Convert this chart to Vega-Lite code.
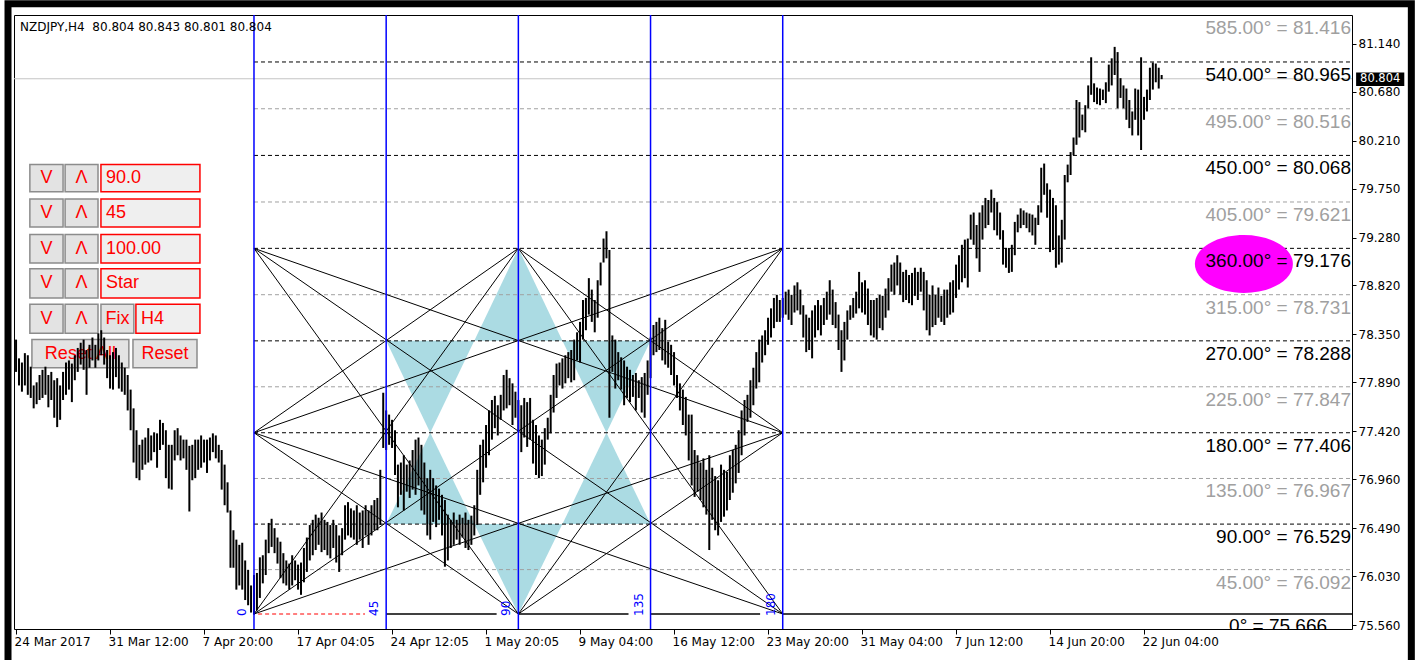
{
"$schema": "https://vega.github.io/schema/vega-lite/v6.json",
"width": 1338,
"height": 614,
"autosize": {"type": "none"},
"padding": {"left": 14, "top": 15, "right": 63, "bottom": 31},
"background": "#ffffff",
"config": {"view": {"stroke": "#000000", "strokeWidth": 1}, "text": {"font": "DejaVu Sans"}},
"datasets": {
"levels": [
{"deg":585,"p":81.416,"label":"585.00° = 81.416"},
{"deg":540,"p":80.965,"label":"540.00° = 80.965"},
{"deg":495,"p":80.516,"label":"495.00° = 80.516"},
{"deg":450,"p":80.068,"label":"450.00° = 80.068"},
{"deg":405,"p":79.621,"label":"405.00° = 79.621"},
{"deg":360,"p":79.176,"label":"360.00° = 79.176"},
{"deg":315,"p":78.731,"label":"315.00° = 78.731"},
{"deg":270,"p":78.288,"label":"270.00° = 78.288"},
{"deg":225,"p":77.847,"label":"225.00° = 77.847"},
{"deg":180,"p":77.406,"label":"180.00° = 77.406"},
{"deg":135,"p":76.967,"label":"135.00° = 76.967"},
{"deg":90,"p":76.529,"label":"90.00° = 76.529"},
{"deg":45,"p":76.092,"label":"45.00° = 76.092"},
{"deg":0,"p":75.666,"label":"0° = 75.666"}
],
"vlines": [{"t":0,"n":"0"},{"t":45,"n":"45"},{"t":90,"n":"90"},{"t":135,"n":"135"},{"t":180,"n":"180"}],
"star": [
{"t1":0,"p1":79.176,"t2":90,"p2":75.666},
{"t1":0,"p1":79.176,"t2":180,"p2":77.406},
{"t1":0,"p1":79.176,"t2":180,"p2":75.666},
{"t1":0,"p1":77.406,"t2":90,"p2":79.176},
{"t1":0,"p1":77.406,"t2":90,"p2":75.666},
{"t1":0,"p1":77.406,"t2":180,"p2":79.176},
{"t1":0,"p1":77.406,"t2":180,"p2":75.666},
{"t1":0,"p1":75.666,"t2":90,"p2":79.176},
{"t1":0,"p1":75.666,"t2":180,"p2":77.406},
{"t1":0,"p1":75.666,"t2":180,"p2":79.176},
{"t1":90,"p1":79.176,"t2":180,"p2":77.406},
{"t1":90,"p1":79.176,"t2":180,"p2":75.666},
{"t1":90,"p1":75.666,"t2":180,"p2":77.406},
{"t1":90,"p1":75.666,"t2":180,"p2":79.176}
],
"tri": [
{"g":"c1","t":75,"a":78.288,"b":78.288},{"g":"c1","t":90,"a":79.176,"b":78.288},{"g":"c1","t":105,"a":78.288,"b":78.288},
{"g":"c2","t":75,"a":76.529,"b":76.529},{"g":"c2","t":90,"a":75.666,"b":76.529},{"g":"c2","t":105,"a":76.529,"b":76.529},
{"g":"l1","t":45,"a":78.288,"b":78.288},{"g":"l1","t":60,"a":77.406,"b":78.288},{"g":"l1","t":75,"a":78.288,"b":78.288},
{"g":"l2","t":45,"a":76.529,"b":76.529},{"g":"l2","t":60,"a":77.406,"b":76.529},{"g":"l2","t":75,"a":76.529,"b":76.529},
{"g":"r1","t":105,"a":78.288,"b":78.288},{"g":"r1","t":120,"a":77.406,"b":78.288},{"g":"r1","t":135,"a":78.288,"b":78.288},
{"g":"r2","t":105,"a":76.529,"b":76.529},{"g":"r2","t":120,"a":77.406,"b":76.529},{"g":"r2","t":135,"a":76.529,"b":76.529}
],
"buttons": [
{"k":"btn","s":"V","t1":-76.3,"t2":-65.0,"p1":79.98,"p2":79.72,"tm":-70.65,"pm":79.85},
{"k":"btn","s":"Λ","t1":-64.3,"t2":-53.1,"p1":79.98,"p2":79.72,"tm":-58.7,"pm":79.85},
{"k":"box","s":"90.0","t1":-52.1,"t2":-18.4,"p1":79.98,"p2":79.72,"tm":-50.4,"pm":79.85},
{"k":"btn","s":"V","t1":-76.3,"t2":-65.0,"p1":79.65,"p2":79.38,"tm":-70.65,"pm":79.515},
{"k":"btn","s":"Λ","t1":-64.3,"t2":-53.1,"p1":79.65,"p2":79.38,"tm":-58.7,"pm":79.515},
{"k":"box","s":"45","t1":-52.1,"t2":-18.4,"p1":79.65,"p2":79.38,"tm":-50.4,"pm":79.515},
{"k":"btn","s":"V","t1":-76.3,"t2":-65.0,"p1":79.31,"p2":79.035,"tm":-70.65,"pm":79.17},
{"k":"btn","s":"Λ","t1":-64.3,"t2":-53.1,"p1":79.31,"p2":79.035,"tm":-58.7,"pm":79.17},
{"k":"box","s":"100.00","t1":-52.1,"t2":-18.4,"p1":79.31,"p2":79.035,"tm":-50.4,"pm":79.17},
{"k":"btn","s":"V","t1":-76.3,"t2":-65.0,"p1":78.98,"p2":78.70,"tm":-70.65,"pm":78.84},
{"k":"btn","s":"Λ","t1":-64.3,"t2":-53.1,"p1":78.98,"p2":78.70,"tm":-58.7,"pm":78.84},
{"k":"box","s":"Star","t1":-52.1,"t2":-18.4,"p1":78.98,"p2":78.70,"tm":-50.4,"pm":78.84},
{"k":"btn","s":"V","t1":-76.3,"t2":-65.0,"p1":78.64,"p2":78.36,"tm":-70.65,"pm":78.50},
{"k":"btn","s":"Λ","t1":-64.3,"t2":-53.1,"p1":78.64,"p2":78.36,"tm":-58.7,"pm":78.50},
{"k":"btn","s":"Fix","t1":-52.1,"t2":-40.9,"p1":78.64,"p2":78.36,"tm":-46.5,"pm":78.50},
{"k":"box","s":"H4","t1":-40.2,"t2":-18.4,"p1":78.64,"p2":78.36,"tm":-38.5,"pm":78.50},
{"k":"btn","s":"Reset All","t1":-75.6,"t2":-42.6,"p1":78.30,"p2":78.03,"tm":-59.1,"pm":78.165},
{"k":"btn","s":"Reset","t1":-41.2,"t2":-19.4,"p1":78.30,"p2":78.03,"tm":-30.3,"pm":78.165}
]
},
"layer": [
{
"data": {"name": "tri"},
"mark": {"type": "area", "color": "#abdbe3", "opacity": 1},
"encoding": {
"x": {"field": "t", "type": "quantitative"},
"y": {"field": "a", "type": "quantitative"},
"y2": {"field": "b"},
"detail": {"field": "g", "type": "nominal"}
}
},
{
"data": {"name": "levels"},
"transform": [{"filter": "datum.deg > 0 && datum.deg < 585"}],
"mark": {"type": "rule", "strokeDash": [4, 3], "strokeWidth": 1},
"encoding": {
"x": {"datum": 0, "type": "quantitative"},
"x2": {"datum": 373.8},
"y": {"field": "p", "type": "quantitative"},
"color": {"condition": {"test": "datum.deg % 90 === 0", "value": "#000000"}, "value": "#a0a0a0"}
}
},
{
"data": {"values": [{}]},
"mark": {"type": "rule", "color": "#c4c4c4", "strokeWidth": 1},
"encoding": {"y": {"datum": 80.804, "type": "quantitative"}}
},
{
"data": {"values": [{"t1": 45, "t2": 82.6}, {"t1": 90, "t2": 127.5}, {"t1": 135, "t2": 172.3}, {"t1": 180, "t2": 373.8}]},
"mark": {"type": "rule", "color": "#000000", "strokeWidth": 1.5},
"encoding": {
"x": {"field": "t1", "type": "quantitative"},
"x2": {"field": "t2"},
"y": {"datum": 75.666, "type": "quantitative"}
}
},
{
"data": {"values": [{}]},
"mark": {"type": "rule", "color": "#ff0000", "strokeWidth": 1.2, "strokeDash": [4, 3]},
"encoding": {
"x": {"datum": 1.4, "type": "quantitative"},
"x2": {"datum": 37.8},
"y": {"datum": 75.666, "type": "quantitative"}
}
},
{
"data": {"name": "buttons"},
"mark": {"type": "rect", "strokeWidth": 1.5},
"encoding": {
"x": {"field": "t1", "type": "quantitative"},
"x2": {"field": "t2"},
"y": {"field": "p1", "type": "quantitative"},
"y2": {"field": "p2"},
"fill": {"condition": {"test": "datum.k === 'box'", "value": "#efefef"}, "value": "#e3e3e3"},
"stroke": {"condition": {"test": "datum.k === 'box'", "value": "#ff0000"}, "value": "#8c8c8c"}
}
},
{
"data": {"name": "buttons"},
"transform": [{"filter": "datum.k === 'btn'"}],
"mark": {"type": "text", "align": "center", "baseline": "middle", "font": "Liberation Sans", "fontSize": 18, "color": "#ff0000"},
"encoding": {
"x": {"field": "tm", "type": "quantitative"},
"y": {"field": "pm", "type": "quantitative"},
"text": {"field": "s"}
}
},
{
"data": {"name": "buttons"},
"transform": [{"filter": "datum.k === 'box'"}],
"mark": {"type": "text", "align": "left", "baseline": "middle", "font": "Liberation Sans", "fontSize": 18, "color": "#ff0000"},
"encoding": {
"x": {"field": "tm", "type": "quantitative"},
"y": {"field": "pm", "type": "quantitative"},
"text": {"field": "s"}
}
},
{
"data": {"values": "t,h,l\n-81,78.30,77.99\n-80,78.12,77.86\n-79,78.08,77.80\n-78,78.17,77.86\n-77,78.15,77.77\n-76,78.04,77.74\n-75,77.86,77.64\n-74,77.89,77.68\n-73,77.96,77.72\n-72,78.01,77.74\n-71,78.04,77.77\n-70,77.96,77.65\n-69,77.99,77.72\n-68,77.91,77.55\n-67,77.93,77.46\n-66,77.86,77.53\n-65,77.99,77.72\n-64,78.08,77.77\n-63,78.10,77.82\n-62,78.07,77.70\n-61,78.15,77.91\n-60,78.22,77.99\n-59,78.27,78.06\n-58,78.30,78.01\n-57,78.20,77.77\n-56,78.25,78.03\n-55,78.32,78.10\n-54,78.25,78.03\n-53,78.36,78.10\n-52,78.39,78.15\n-51,78.32,78.06\n-50,78.20,77.93\n-49,78.15,77.83\n-48,78.18,77.82\n-47,78.22,77.94\n-46,78.15,77.83\n-45,78.08,77.80\n-44,78.03,77.77\n-43,77.96,77.62\n-42,77.82,77.43\n-41,77.64,77.12\n-40,77.43,76.97\n-39,77.29,76.95\n-38,77.34,77.05\n-37,77.36,77.10\n-36,77.45,77.12\n-35,77.38,77.14\n-34,77.41,77.22\n-33,77.40,77.07\n-32,77.53,77.24\n-31,77.50,77.29\n-30,77.43,76.97\n-29,77.29,76.87\n-28,77.29,76.86\n-27,77.43,77.14\n-26,77.45,77.19\n-25,77.38,77.14\n-24,77.34,77.16\n-23,77.34,77.05\n-22,77.28,76.65\n-21,77.29,76.95\n-20,77.34,76.97\n-19,77.34,77.05\n-18,77.38,77.07\n-17,77.34,77.12\n-16,77.34,77.02\n-15,77.36,77.14\n-14,77.40,77.22\n-13,77.38,77.16\n-12,77.29,77.12\n-11,77.24,76.86\n-10,77.10,76.71\n-9,76.93,76.64\n-8,76.66,76.11\n-7,76.47,76.11\n-6,76.38,75.90\n-5,76.33,75.94\n-4,76.35,75.90\n-3,76.18,75.80\n-2,76.09,75.75\n-1,75.94,75.68\n0,76.04,75.66\n1,76.06,75.70\n2,76.21,75.82\n3,76.23,75.96\n4,76.38,76.04\n5,76.54,76.25\n6,76.58,76.31\n7,76.49,76.25\n8,76.40,76.15\n9,76.36,76.01\n10,76.25,75.96\n11,76.18,75.94\n12,76.15,75.90\n13,76.23,75.94\n14,76.18,75.99\n15,76.14,75.90\n16,76.16,75.85\n17,76.30,75.97\n18,76.40,76.07\n19,76.52,76.18\n20,76.57,76.23\n21,76.62,76.28\n22,76.59,76.33\n23,76.64,76.26\n24,76.57,76.28\n25,76.55,76.23\n26,76.52,76.20\n27,76.57,76.30\n28,76.52,76.16\n29,76.42,76.07\n30,76.49,76.23\n31,76.71,76.38\n32,76.74,76.42\n33,76.68,76.40\n34,76.66,76.38\n35,76.71,76.33\n36,76.64,76.38\n37,76.66,76.30\n38,76.71,76.42\n39,76.66,76.33\n40,76.71,76.42\n41,76.76,76.47\n42,76.78,76.47\n43,77.05,76.52\n44,77.79,77.26\n45,77.62,77.24\n46,77.58,77.29\n47,77.53,77.26\n48,77.43,77.00\n49,77.10,76.69\n50,77.12,76.81\n51,77.19,76.66\n52,77.10,76.84\n53,77.14,76.78\n54,77.24,76.86\n55,77.34,76.81\n56,77.36,76.90\n57,77.29,76.66\n58,77.12,76.62\n59,76.97,76.42\n60,77.05,76.38\n61,76.97,76.55\n62,76.90,76.50\n63,76.87,76.57\n64,76.81,76.42\n65,76.76,76.12\n66,76.62,76.18\n67,76.57,76.30\n68,76.64,76.33\n69,76.57,76.38\n70,76.62,76.33\n71,76.59,76.40\n72,76.64,76.30\n73,76.57,76.28\n74,76.61,76.33\n75,76.71,76.42\n76,77.05,76.52\n77,77.29,76.81\n78,77.34,76.93\n79,77.48,77.07\n80,77.62,77.19\n81,77.72,77.34\n82,77.76,77.45\n83,77.67,77.38\n84,77.77,77.53\n85,77.96,77.62\n86,78.01,77.64\n87,77.93,77.67\n88,77.88,77.48\n89,77.80,77.55\n90,77.72,77.43\n91,77.67,77.22\n92,77.74,77.36\n93,77.70,77.27\n94,77.74,77.34\n95,77.53,77.11\n96,77.48,77.00\n97,77.38,76.97\n98,77.34,76.99\n99,77.45,77.10\n100,77.55,77.34\n101,77.77,77.40\n102,77.96,77.60\n103,78.07,77.74\n104,78.08,77.86\n105,78.12,77.83\n106,78.15,77.88\n107,78.18,77.93\n108,78.20,77.89\n109,78.30,77.91\n110,78.37,78.10\n111,78.47,78.08\n112,78.68,78.30\n113,78.70,78.39\n114,78.89,78.54\n115,78.78,78.47\n116,78.68,78.37\n117,78.87,78.51\n118,79.04,78.82\n119,79.27,79.04\n120,79.34,79.08\n121,79.16,77.55\n122,78.34,77.99\n123,78.30,77.83\n124,78.18,77.91\n125,78.13,77.82\n126,78.10,77.67\n127,78.04,77.74\n128,78.01,77.70\n129,77.96,77.75\n130,77.98,77.62\n131,77.91,77.74\n132,77.94,77.60\n133,77.98,77.55\n134,78.10,77.77\n135,78.32,77.93\n136,78.44,78.15\n137,78.47,78.18\n138,78.51,78.20\n139,78.41,78.10\n140,78.49,78.06\n141,78.28,78.03\n142,78.25,77.96\n143,78.18,77.86\n144,77.96,77.74\n145,77.88,77.62\n146,77.82,77.48\n147,77.75,77.38\n148,77.58,77.14\n149,77.58,76.90\n150,77.24,76.79\n151,77.19,76.84\n152,77.12,76.76\n153,77.16,76.69\n154,77.05,76.62\n155,77.19,76.28\n156,77.07,76.57\n157,76.99,76.47\n158,76.95,76.42\n159,77.10,76.55\n160,77.05,76.60\n161,77.03,76.66\n162,77.19,76.76\n163,77.24,76.83\n164,77.29,76.92\n165,77.43,77.02\n166,77.62,77.19\n167,77.72,77.38\n168,77.77,77.51\n169,77.91,77.55\n170,78.03,77.67\n171,78.18,77.83\n172,78.30,77.89\n173,78.34,78.08\n174,78.39,78.15\n175,78.51,78.25\n176,78.60,78.32\n177,78.70,78.41\n178,78.73,78.47\n179,78.68,78.47\n180,78.70,78.51\n181,78.76,78.54\n182,78.78,78.49\n183,78.73,78.44\n184,78.82,78.56\n185,78.85,78.58\n186,78.78,78.54\n187,78.63,78.32\n188,78.54,78.18\n189,78.51,78.20\n190,78.58,78.12\n191,78.63,78.32\n192,78.68,78.39\n193,78.63,78.34\n194,78.70,78.44\n195,78.76,78.49\n196,78.87,78.54\n197,78.78,78.44\n198,78.66,78.41\n199,78.54,78.20\n200,78.39,77.99\n201,78.47,78.10\n202,78.58,78.30\n203,78.63,78.49\n204,78.70,78.51\n205,78.76,78.55\n206,78.95,78.60\n207,78.85,78.56\n208,78.87,78.54\n209,78.79,78.44\n210,78.68,78.34\n211,78.68,78.32\n212,78.70,78.30\n213,78.73,78.41\n214,78.72,78.39\n215,78.79,78.51\n216,78.89,78.58\n217,79.02,78.76\n218,79.04,78.73\n219,79.11,78.82\n220,79.04,78.73\n221,78.95,78.66\n222,78.97,78.68\n223,78.92,78.65\n224,78.94,78.63\n225,78.99,78.72\n226,78.95,78.68\n227,78.99,78.76\n228,78.95,78.58\n229,78.87,78.39\n230,78.73,78.34\n231,78.82,78.42\n232,78.73,78.44\n233,78.80,78.51\n234,78.72,78.47\n235,78.78,78.44\n236,78.78,78.51\n237,78.85,78.54\n238,78.87,78.56\n239,79.02,78.70\n240,79.11,78.78\n241,79.21,78.85\n242,79.26,78.89\n243,79.27,78.80\n244,79.50,79.26\n245,79.52,79.21\n246,79.40,79.08\n247,79.52,78.95\n248,79.59,79.26\n249,79.66,79.37\n250,79.64,79.40\n251,79.74,79.52\n252,79.66,79.35\n253,79.62,79.30\n254,79.52,79.26\n255,79.35,79.02\n256,79.18,78.99\n257,79.18,78.94\n258,79.21,78.95\n259,79.43,79.11\n260,79.50,79.33\n261,79.56,79.37\n262,79.54,79.40\n263,79.52,79.37\n264,79.51,79.33\n265,79.50,79.30\n266,79.47,79.21\n267,79.59,79.40\n268,79.95,79.52\n269,79.99,79.69\n270,79.80,79.47\n271,79.74,79.14\n272,79.66,79.16\n273,79.59,78.99\n274,79.30,79.02\n275,79.45,79.04\n276,79.88,79.26\n277,79.98,79.81\n278,80.10,79.88\n279,80.24,80.07\n280,80.60,80.17\n281,80.58,80.24\n282,80.46,80.31\n283,80.55,80.29\n284,80.74,80.52\n285,81.01,80.65\n286,80.76,80.58\n287,80.72,80.56\n288,80.71,80.55\n289,80.70,80.60\n290,80.77,80.57\n291,80.94,80.68\n292,81.00,80.74\n293,81.11,80.84\n294,81.06,80.52\n295,80.81,80.62\n296,80.74,80.52\n297,80.71,80.41\n298,80.60,80.33\n299,80.49,80.26\n300,80.71,80.41\n301,80.70,80.26\n302,81.01,80.12\n303,80.63,80.41\n304,80.70,80.49\n305,80.91,80.60\n306,80.96,80.70\n307,80.95,80.77\n308,80.91,80.71\n309,80.84,80.80", "format": {"type": "csv", "parse": {"t": "number", "h": "number", "l": "number"}}},
"mark": {"type": "rule", "color": "#000000", "strokeWidth": 2},
"encoding": {
"x": {"field": "t", "type": "quantitative", "scale": {"domain": [-81.7, 373.8], "nice": false, "zero": false},
"axis": {"values": [-81, -49, -17, 15, 47, 79, 111, 143, 175, 207, 239, 271, 303], "labelExpr": "['24 Mar 2017','31 Mar 12:00','7 Apr 20:00','17 Apr 04:05','24 Apr 12:05','1 May 20:05','9 May 04:00','16 May 12:00','23 May 20:00','31 May 04:00','7 Jun 12:00','14 Jun 20:00','22 Jun 04:00'][round((datum.value+81)/32)]", "labelAlign": "left", "labelOffset": -2, "labelFont": "DejaVu Sans", "labelFontSize": 12, "labelColor": "#000000", "tickColor": "#000000", "tickSize": 5, "labelPadding": 2, "domain": false, "grid": false, "title": null, "labelOverlap": false, "labelFlush": false, "labelBound": false}},
"y": {"field": "l", "type": "quantitative", "scale": {"domain": [75.522, 81.416], "nice": false, "zero": false},
"axis": {"orient": "right", "values": [75.56, 76.03, 76.49, 76.96, 77.42, 77.89, 78.35, 78.82, 79.28, 79.75, 80.21, 80.68, 81.14], "format": ".3f", "labelFont": "DejaVu Sans", "labelFontSize": 12, "labelColor": "#000000", "tickColor": "#000000", "tickSize": 4, "labelPadding": 2, "domain": false, "grid": false, "title": null, "labelOverlap": false, "labelFlush": false, "labelBound": false}},
"y2": {"field": "h"}
}
},
{
"data": {"name": "star"},
"mark": {"type": "rule", "color": "#000000", "strokeWidth": 1},
"encoding": {
"x": {"field": "t1", "type": "quantitative"},
"x2": {"field": "t2"},
"y": {"field": "p1", "type": "quantitative"},
"y2": {"field": "p2"}
}
},
{
"data": {"name": "vlines"},
"mark": {"type": "rule", "color": "#0000ff", "strokeWidth": 1.5},
"encoding": {"x": {"field": "t", "type": "quantitative"}}
},
{
"data": {"name": "vlines"},
"mark": {"type": "text", "angle": 270, "align": "left", "baseline": "bottom", "dx": -2, "dy": -5, "fontSize": 12, "color": "#0000ff"},
"encoding": {
"x": {"field": "t", "type": "quantitative"},
"y": {"datum": 75.666, "type": "quantitative"},
"text": {"field": "n"}
}
},
{
"data": {"values": [{}]},
"mark": {"type": "point", "shape": "M -1 0 A 1 0.59 0 1 0 1 0 A 1 0.59 0 1 0 -1 0 Z", "size": 9604, "filled": true, "color": "#ff00ff", "opacity": 1, "strokeWidth": 0},
"encoding": {
"x": {"datum": 337, "type": "quantitative"},
"y": {"datum": 79.026, "type": "quantitative"}
}
},
{
"data": {"name": "levels"},
"transform": [{"filter": "datum.deg > 0"}],
"mark": {"type": "text", "align": "right", "dx": -1, "dy": 13, "font": "Liberation Sans", "fontSize": 19},
"encoding": {
"x": {"datum": 373.8, "type": "quantitative"},
"y": {"field": "p", "type": "quantitative"},
"text": {"field": "label"},
"color": {"condition": {"test": "datum.deg % 90 === 0", "value": "#000000"}, "value": "#a0a0a0"}
}
},
{
"data": {"values": [{"label": "0° = 75.666"}]},
"mark": {"type": "text", "align": "right", "dy": 12, "font": "Liberation Sans", "fontSize": 19, "color": "#000000", "clip": true},
"encoding": {
"x": {"datum": 365.3, "type": "quantitative"},
"y": {"datum": 75.666, "type": "quantitative"},
"text": {"field": "label"}
}
},
{
"data": {"values": [{"v": "NZDJPY,H4\u00a0 80.804 80.843 80.801 80.804"}]},
"mark": {"type": "text", "align": "left", "baseline": "alphabetic", "font": "DejaVu Sans", "fontSize": 12, "color": "#000000"},
"encoding": {
"x": {"datum": -79.66, "type": "quantitative"},
"y": {"datum": 81.262, "type": "quantitative"},
"text": {"field": "v"}
}
},
{
"data": {"values": [{}]},
"mark": {"type": "rect", "color": "#000000"},
"encoding": {
"x": {"datum": 375.2, "type": "quantitative"},
"x2": {"datum": 391.6},
"y": {"datum": 80.865, "type": "quantitative"},
"y2": {"datum": 80.735}
}
},
{
"data": {"values": [{"v": "80.804"}]},
"mark": {"type": "text", "align": "center", "baseline": "middle", "fontSize": 11.5, "color": "#ffffff"},
"encoding": {
"x": {"datum": 383.4, "type": "quantitative"},
"y": {"datum": 80.8, "type": "quantitative"},
"text": {"field": "v"}
}
},
{
"data": {"values": [{}]},
"mark": {"type": "rect", "fillOpacity": 0, "stroke": "#000000", "strokeWidth": 7},
"encoding": {
"x": {"datum": -83.74, "type": "quantitative"},
"x2": {"datum": 394.0},
"y": {"datum": 81.524, "type": "quantitative"},
"y2": {"datum": 74.5}
}
}
]
}
